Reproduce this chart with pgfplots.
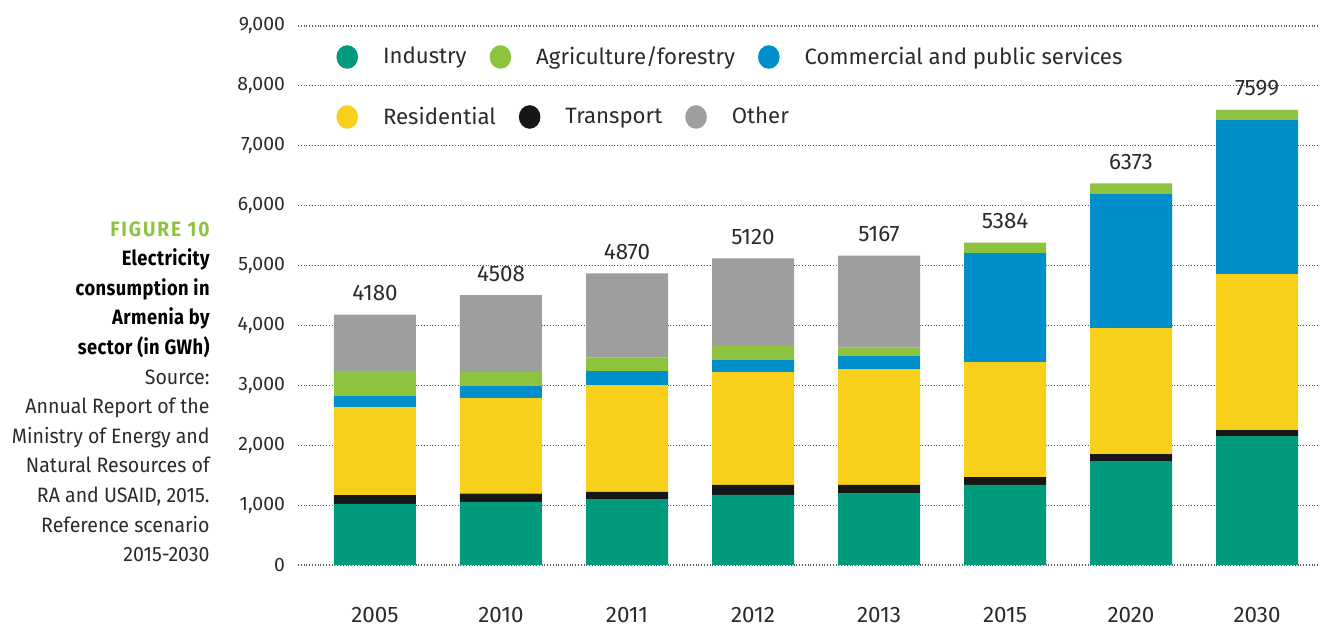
\documentclass[border=0pt]{standalone}
\usepackage{fontspec}
\setmainfont{Fira Sans}
\newfontfamily\titlefont[FakeStretch=0.88, LetterSpace=2]{Fira Sans}
\newfontfamily\figfont[FakeStretch=0.92, LetterSpace=9]{Fira Sans}
\newfontfamily\notefont[FakeStretch=0.94]{Fira Sans}
\usepackage{pgfplots}
\pgfplotsset{compat=1.18}
\usepackage{pgfplotstable}

\definecolor{industry}{HTML}{009B7D}
\definecolor{agri}{HTML}{8DC33F}
\definecolor{commercial}{HTML}{008FCA}
\definecolor{residential}{HTML}{F8D01C}
\definecolor{transport}{HTML}{161616}
\definecolor{other}{HTML}{9D9E9D}
\definecolor{txt}{HTML}{2B2B2B}

% GWh by sector, stacked bottom to top
\pgfplotstableread{
x industry transport residential commercial agri other total
0 1020 148 1470 183 418 941 4180
1 1052 138 1598 200 234 1286 4508
2 1102 117 1786 234 228 1403 4870
3 1169 167 1886 200 234 1464 5120
4 1202 134 1936 217 145 1533 5167
5 1336 133 1920 1820 175 0 5384
6 1736 117 2104 2237 179 0 6373
7 2154 100 2604 2571 170 0 7599
}\elec

\pgfplotsset{
  chartbox/.style={
    at={(0,0)}, anchor=south west, scale only axis,
    width=511pt, height=269.5pt,
    xmin=-0.611, xmax=7.5, ymin=0, ymax=9000,
  },
  dotlegend/.style={
    legend columns=-1,
    legend image code/.code={
      \fill[##1, draw=none] (5.5pt,0pt) ellipse (5.4pt and 5.9pt);
    },
    legend style={draw=none, fill=none, anchor=west, inner sep=0pt,
      font=\fontsize{11.1}{13}\selectfont, text=txt,
      nodes={inner sep=0pt},
      /tikz/every odd column/.append style={column sep=12.5pt},
      /tikz/every even column/.append style={column sep=11.5pt}},
  },
}

\begin{document}
\begin{tikzpicture}
\path[use as bounding box] (-149pt,-30.5pt) rectangle (511pt,282.5pt);

\begin{axis}[
    chartbox,
    ybar stacked,
    bar width=41pt,
    enlargelimits=false,
    xtick={0,...,7},
    xticklabels={2005,2010,2011,2012,2013,2015,2020,2030},
    ytick={0,1000,...,9000},
    /pgf/number format/.cd, 1000 sep={,}, assume math mode=true,
    /pgfplots/.cd,
    axis line style={draw=none},
    major tick length=0pt,
    ymajorgrids,
    grid style={densely dotted, black!65, line width=0.55pt},
    yticklabel style={font=\fontsize{9.7}{11}\selectfont, text=txt, xshift=-3pt},
    xticklabel style={font=\fontsize{11.2}{13}\selectfont, text=txt, yshift=-17.5pt},
    dotlegend,
    legend style={at={(0.0372,0.9425)}},
]
\addplot[fill=industry, draw=none, forget plot] table[x=x, y=industry] {\elec};
\addplot[fill=transport, draw=none, forget plot] table[x=x, y=transport] {\elec};
\addplot[fill=residential, draw=none, forget plot] table[x=x, y=residential] {\elec};
\addplot[fill=commercial, draw=none, forget plot] table[x=x, y=commercial] {\elec};
\addplot[fill=agri, draw=none, forget plot] table[x=x, y=agri] {\elec};
\addplot[fill=other, draw=none, forget plot] table[x=x, y=other] {\elec};

\addlegendimage{fill=industry}
\addlegendentry{Industry}
\addlegendimage{fill=agri}
\addlegendentry{Agriculture/forestry}
\addlegendimage{fill=commercial}
\addlegendentry{Commercial and public services}
\end{axis}

% totals above the bars and the second row of the legend
\begin{axis}[
    chartbox, hide axis,
    dotlegend,
    legend style={at={(0.0372,0.8312)}},
    nodes near coords style={font=\fontsize{11.2}{13}\selectfont, text=txt, yshift=3.3pt},
]
\addplot[draw=none, mark=none, forget plot,
    point meta=explicit symbolic, nodes near coords]
    table[x=x, y=total, meta=total] {\elec};
\addlegendimage{fill=residential}
\addlegendentry{Residential}
\addlegendimage{fill=transport}
\addlegendentry{Transport}
\addlegendimage{fill=other}
\addlegendentry{Other}
\end{axis}

\node[anchor=north east, align=right, inner sep=0pt, text=txt,
      font=\notefont\fontsize{10.4}{14.8}\selectfont] at (-44pt,172pt)
{{\figfont\bfseries\color{agri}FIGURE 10}\\
 {\titlefont\bfseries\color{black}Electricity}\\
 {\titlefont\bfseries\color{black}consumption in}\\
 {\titlefont\bfseries\color{black}Armenia by}\\
 {\titlefont\bfseries\color{black}sector (in GWh)}\\
 Source:\\
 Annual Report of the\\
 Ministry of Energy and\\
 Natural Resources of\\
 RA and USAID, 2015.\\
 Reference scenario\\
 2015-2030};
\end{tikzpicture}
\end{document}
